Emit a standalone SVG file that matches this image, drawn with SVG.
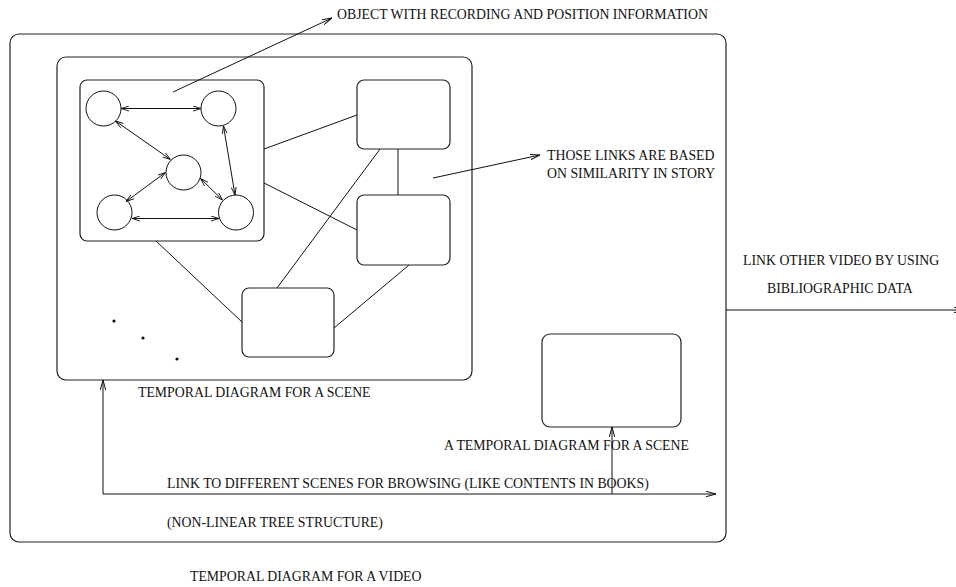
<svg xmlns="http://www.w3.org/2000/svg" width="956" height="587" viewBox="0 0 956 587">
<defs>
<style>
.box{fill:none;stroke:#222;stroke-width:1.2}
.ln{fill:none;stroke:#111;stroke-width:1}
.c{fill:#fff;stroke:#111;stroke-width:1}
text{font-family:"Liberation Serif","Times New Roman",serif;font-size:13.8px;fill:#111}
</style>
<marker id="ah" viewBox="0 0 10 6" refX="10" refY="3" markerWidth="10" markerHeight="6" markerUnits="userSpaceOnUse" orient="auto-start-reverse">
<path d="M0,0.3 L10,3 L0,5.7" fill="none" stroke="#111" stroke-width="1"/>
</marker>
<marker id="sh" viewBox="0 0 8 6" refX="8" refY="3" markerWidth="8" markerHeight="6" markerUnits="userSpaceOnUse" orient="auto-start-reverse">
<path d="M0,0.5 L8,3 L0,5.5" fill="none" stroke="#111" stroke-width="0.9"/>
</marker>
</defs>
<rect width="956" height="587" fill="#fff"/>
<g id="video">
<rect class="box" x="10" y="34" width="716" height="508" rx="9"/>
<text x="190" y="581">TEMPORAL DIAGRAM FOR A VIDEO</text>
</g>
<g id="scene">
<rect class="box" x="57" y="57" width="415" height="323" rx="9"/>
<text x="138" y="397">TEMPORAL DIAGRAM FOR A SCENE</text>
</g>
<g id="object">
<rect class="box" x="80" y="80" width="184" height="161" rx="7"/>
<circle id="c1" class="c" cx="103.5" cy="108.5" r="17.5"/>
<circle id="c2" class="c" cx="218.5" cy="108.5" r="17.5"/>
<circle id="c3" class="c" cx="183.5" cy="172.5" r="17.5"/>
<circle id="c4" class="c" cx="114.5" cy="212.5" r="17.5"/>
<circle id="c5" class="c" cx="236" cy="212.5" r="17.5"/>
</g>
<g id="boxA"><rect class="box" x="357" y="80" width="93" height="69" rx="7"/></g>
<g id="boxB"><rect class="box" x="357" y="195" width="93" height="70" rx="7"/></g>
<g id="boxC"><rect class="box" x="242" y="288" width="92" height="69" rx="7"/></g>
<g id="boxD"><rect class="box" x="542" y="334" width="139" height="93" rx="8"/>
<text x="444" y="450">A TEMPORAL DIAGRAM FOR A SCENE</text></g>
<g id="dots" fill="#111">
<circle cx="114" cy="321" r="1.6"/>
<circle cx="143" cy="338" r="1.6"/>
<circle cx="177" cy="359" r="1.6"/>
</g>
<g id="connectors">
<line class="ln" x1="121" y1="108.5" x2="201" y2="108.5" marker-start="url(#sh)" marker-end="url(#sh)"/>
<line class="ln" x1="115.5" y1="121" x2="170.5" y2="159.5" marker-start="url(#sh)" marker-end="url(#sh)"/>
<line class="ln" x1="223.5" y1="126" x2="235" y2="195" marker-start="url(#sh)" marker-end="url(#sh)"/>
<line class="ln" x1="165.5" y1="172.5" x2="126" y2="201.5" marker-start="url(#sh)" marker-end="url(#sh)"/>
<line class="ln" x1="200.5" y1="178.5" x2="222.5" y2="200" marker-start="url(#sh)" marker-end="url(#sh)"/>
<line class="ln" x1="132" y1="218.5" x2="219" y2="218.5" marker-start="url(#sh)" marker-end="url(#sh)"/>
<line class="ln" x1="264" y1="149" x2="357" y2="115"/>
<line class="ln" x1="264" y1="183" x2="357" y2="230"/>
<line class="ln" x1="380" y1="149" x2="277" y2="288"/>
<line class="ln" x1="398" y1="149" x2="398" y2="195"/>
<line class="ln" x1="409" y1="265" x2="334" y2="328"/>
<line class="ln" x1="156" y1="241" x2="242" y2="322"/>
<line class="ln" x1="173" y1="92" x2="332" y2="18" marker-end="url(#ah)"/>
<line class="ln" x1="433" y1="178" x2="540" y2="155" marker-end="url(#ah)"/>
<polyline class="ln" points="103,380 103,494 716,494" marker-start="url(#ah)" marker-end="url(#ah)"/>
<line class="ln" x1="612" y1="494" x2="612" y2="427" marker-end="url(#ah)"/>
<line class="ln" x1="726" y1="310" x2="964" y2="310" marker-end="url(#ah)"/>
</g>
<g id="labels">
<text x="337" y="19">OBJECT WITH RECORDING AND POSITION INFORMATION</text>
<text x="547" y="160">THOSE LINKS ARE BASED</text>
<text x="547" y="178">ON SIMILARITY IN STORY</text>
<text x="743" y="265">LINK OTHER VIDEO BY USING</text>
<text x="767" y="293">BIBLIOGRAPHIC DATA</text>
<text x="167" y="488">LINK TO DIFFERENT SCENES FOR BROWSING (LIKE CONTENTS IN BOOKS)</text>
<text x="167" y="527">(NON-LINEAR TREE STRUCTURE)</text>
</g>
</svg>
